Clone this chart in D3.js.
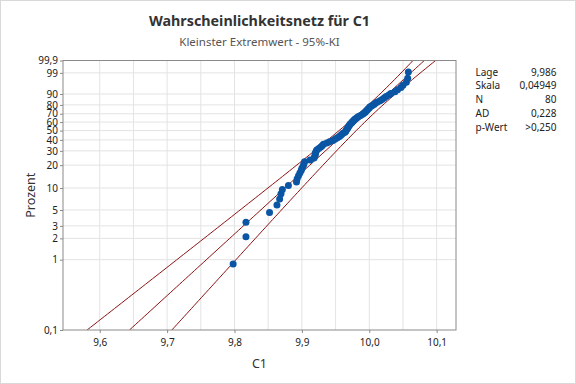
<!DOCTYPE html>
<html>
<head>
<meta charset="utf-8">
<script src="https://cdn.jsdelivr.net/npm/d3@7"></script>
<style>
  body { margin: 0; background: #fff; }
  text { font-family: "Noto Sans", "Open Sans", sans-serif; }
</style>
</head>
<body>
<div id="chart"></div>
<script>
// sorted sample values (C1)
const c1Values = [
    9.798, 9.817, 9.817, 9.852, 9.863, 9.867, 9.869, 9.871, 9.880, 9.892,
    9.893, 9.895, 9.897, 9.899, 9.900, 9.902, 9.903, 9.904, 9.912, 9.918,
    9.919, 9.920, 9.920, 9.921, 9.922, 9.925, 9.928, 9.930, 9.932, 9.937,
    9.941, 9.946, 9.949, 9.952, 9.955, 9.957, 9.959, 9.961, 9.964, 9.965,
    9.966, 9.967, 9.968, 9.969, 9.970, 9.971, 9.972, 9.974, 9.975, 9.977,
    9.978, 9.980, 9.982, 9.984, 9.987, 9.990, 9.992, 9.994, 9.995, 9.997,
    9.998, 10.000, 10.001, 10.004, 10.007, 10.009, 10.012, 10.016, 10.019, 10.022,
    10.025, 10.029, 10.032, 10.038, 10.042, 10.047, 10.050, 10.055, 10.057, 10.058
];

const yTicks = [0.1, 1, 2, 3, 5, 10, 20, 30, 40, 50, 60, 70, 80, 90, 99, 99.9];
const yTickLabels = ["0,1", "1", "2", "3", "5", "10", "20", "30", "40", "50", "60", "70", "80", "90", "99", "99,9"];
const xTicks = [9.6, 9.7, 9.8, 9.9, 10.0, 10.1];
const xTickLabels = ["9,6", "9,7", "9,8", "9,9", "10,0", "10,1"];
const xGrid = [9.6, 9.65, 9.7, 9.75, 9.8, 9.85, 9.9, 9.95, 10.0, 10.05, 10.1];

const statNames = ["Lage", "Skala", "N", "AD", "p-Wert"];
const statValues = ["9,986", "0,04949", "80", "0,228", ">0,250"];

// fitted smallest extreme value parameters
const lage = 9.986;
const skala = 0.04949;
const nObs = 80;

const width = 576, height = 384;
const plotLeft = 63, plotRight = 456, plotTop = 60.5, plotBottom = 330;

const svg = d3.select("#chart").append("svg")
    .attr("width", width)
    .attr("height", height);

svg.append("rect")
    .attr("x", 0.5).attr("y", 0.5)
    .attr("width", width - 1).attr("height", height - 1)
    .attr("fill", "#fff").attr("stroke", "#d9d9d9");

// probability transform for smallest extreme value
function sev(p) {
    return Math.log(-Math.log(1 - p / 100));
}

const x = d3.scaleLinear().domain([9.5455, 10.1287]).range([plotLeft, plotRight]);
const y = d3.scaleLinear().domain([sev(0.1), sev(99.9)]).range([plotBottom, plotTop]);

// grid
svg.append("g").selectAll("line")
    .data(xGrid)
    .enter().append("line")
    .attr("x1", d => x(d)).attr("x2", d => x(d))
    .attr("y1", plotTop).attr("y2", plotBottom)
    .attr("stroke", "#e3e3e3");

svg.append("g").selectAll("line")
    .data(yTicks.slice(1, -1))
    .enter().append("line")
    .attr("x1", plotLeft).attr("x2", plotRight)
    .attr("y1", d => y(sev(d))).attr("y2", d => y(sev(d)))
    .attr("stroke", "#e3e3e3");

// fitted line and 95% confidence bounds
const z = 1.959964;
const wSteps = d3.range(0, 101).map(i => sev(0.1) + (sev(99.9) - sev(0.1)) * i / 100);

function bound(sign) {
    return wSteps.map(w => {
        let v = (1.1087 + 0.6079 * w * w - 2 * 0.2570 * w) / nObs;
        return [lage + skala * w + sign * z * skala * Math.sqrt(v), w];
    });
}

svg.append("clipPath").attr("id", "plotclip")
    .append("rect")
    .attr("x", plotLeft).attr("y", plotTop)
    .attr("width", plotRight - plotLeft).attr("height", plotBottom - plotTop);

const line = d3.line()
    .x(d => x(d[0]))
    .y(d => y(d[1]));

const lines = svg.append("g").attr("clip-path", "url(#plotclip)");
[-1, 0, 1].forEach(s => {
    lines.append("path")
        .attr("d", line(bound(s)))
        .attr("fill", "none")
        .attr("stroke", "#8e1010")
        .attr("stroke-width", 1);
});

// data points at median ranks
const points = c1Values.map((v, i) => ({
    value: v,
    percent: 100 * (i + 1 - 0.3) / (nObs + 0.4)
}));

svg.append("g").selectAll("circle")
    .data(points)
    .enter().append("circle")
    .attr("cx", d => x(d.value))
    .attr("cy", d => y(sev(d.percent)))
    .attr("r", 3.5)
    .attr("fill", "#0a56a4");

// frame
svg.append("rect")
    .attr("x", plotLeft).attr("y", plotTop)
    .attr("width", plotRight - plotLeft).attr("height", plotBottom - plotTop)
    .attr("fill", "none")
    .attr("stroke", "#8a8a8a");

// axes
const xAxis = d3.axisBottom(x)
    .tickValues(xTicks)
    .tickFormat((d, i) => xTickLabels[i])
    .tickSize(3)
    .tickPadding(6);

const yAxis = d3.axisLeft(y)
    .tickValues(yTicks.map(sev))
    .tickFormat((d, i) => yTickLabels[i])
    .tickSize(3)
    .tickPadding(2);

const gx = svg.append("g")
    .attr("transform", `translate(0,${plotBottom})`)
    .call(xAxis);
const gy = svg.append("g")
    .attr("transform", `translate(${plotLeft},0)`)
    .call(yAxis);

[gx, gy].forEach(g => {
    g.select(".domain").remove();
    g.selectAll(".tick line").attr("stroke", "#8a8a8a");
    g.selectAll(".tick text")
        .style("font-family", '"Noto Sans", sans-serif')
        .style("font-size", "10px")
        .attr("fill", "#222");
});

// titles
const cx = (plotLeft + plotRight) / 2;
svg.append("text")
    .attr("x", cx).attr("y", 25.5)
    .attr("text-anchor", "middle")
    .style("font-size", "14.3px")
    .style("font-weight", "bold")
    .attr("fill", "#333")
    .text("Wahrscheinlichkeitsnetz für C1");

svg.append("text")
    .attr("x", cx).attr("y", 45.5)
    .attr("text-anchor", "middle")
    .style("font-size", "11.5px")
    .attr("fill", "#555")
    .text("Kleinster Extremwert - 95%-KI");

svg.append("text")
    .attr("x", cx).attr("y", 368)
    .attr("text-anchor", "middle")
    .style("font-size", "12.5px")
    .attr("fill", "#333")
    .text("C1");

svg.append("text")
    .attr("transform", `translate(35,${(plotTop + plotBottom) / 2}) rotate(-90)`)
    .attr("text-anchor", "middle")
    .style("font-size", "12.5px")
    .attr("fill", "#333")
    .text("Prozent");

// statistics table
const stats = svg.append("g");
statNames.forEach((name, i) => {
    stats.append("text")
        .attr("x", 475.5).attr("y", 75.5 + i * 13.8)
        .style("font-size", "10px")
        .attr("fill", "#222")
        .text(name);
    stats.append("text")
        .attr("x", 556.5).attr("y", 75.5 + i * 13.8)
        .attr("text-anchor", "end")
        .style("font-size", "10px")
        .attr("fill", "#222")
        .text(statValues[i]);
});
</script>
</body>
</html>
